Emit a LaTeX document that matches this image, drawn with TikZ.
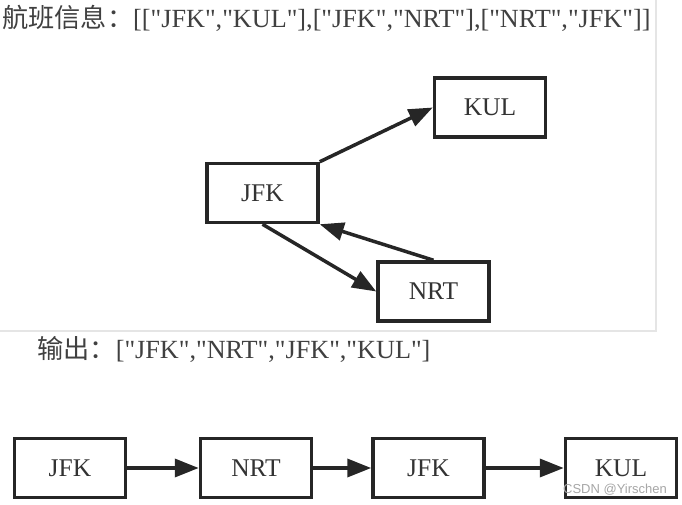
\documentclass[tikz,border=0pt]{standalone}
\usepackage{fontspec}
\setmainfont{Liberation Serif}[Ligatures=TeXOff]
\setsansfont{Liberation Sans}
\newfontfamily\cjk{Noto Sans CJK SC}
\usetikzlibrary{arrows.meta}
\tikzset{
    airport/.style={draw=black!85, line width=3.5pt, minimum width=111pt, minimum height=59pt,
        inner sep=0pt, font=\fontsize{25.5}{30}\selectfont, text=black!80},
    flight/.style={draw=black!85, line width=3.5pt, -{Triangle[length=24pt,width=18pt]}},
    caption/.style={anchor=west, inner sep=0pt, font=\fontsize{26.2}{31}\selectfont, text=black!75}
}

\begin{document}
\begin{tikzpicture}[x=1pt,y=-1pt]
            \useasboundingbox (0,0) rectangle (682,505);
            \draw [gray!20, line width=2pt] (0,331)--(656,331)--(656,0);

            \node [caption] (tickets) at(2,18) {{\cjk 航班信息：}[["JFK","KUL"],["JFK","NRT"],["NRT","JFK"]]};
            \node [airport] (kul) at(490,107.5) {KUL};
            \node [airport] (jfk) at(262.5,193) {JFK};
            \node [airport] (nrt) at(433.5,291.5) {NRT};
            \draw [flight] (jfk.north east)--(kul.west);
            \draw [flight] (jfk.south)--(nrt.west);
            \draw [flight] (nrt.north)--(jfk.south east);

            \node [caption] (output) at(37,349) {{\cjk 输出：}["JFK","NRT","JFK","KUL"]};
            \node [airport] (route1) at(70,468) {JFK};
            \node [airport] (route2) at(256,468) {NRT};
            \node [airport] (route3) at(428.5,468) {JFK};
            \node [airport] (route4) at(621,468) {KUL};
            \draw [flight] (route1)--(route2);
            \draw [flight] (route2)--(route3);
            \draw [flight] (route3)--(route4);

            \node [font=\sffamily\fontsize{13}{15}\selectfont, text=gray!70, inner sep=0pt] (mark) at(615,490) {CSDN @Yirschen};
\end{tikzpicture}
\end{document}
